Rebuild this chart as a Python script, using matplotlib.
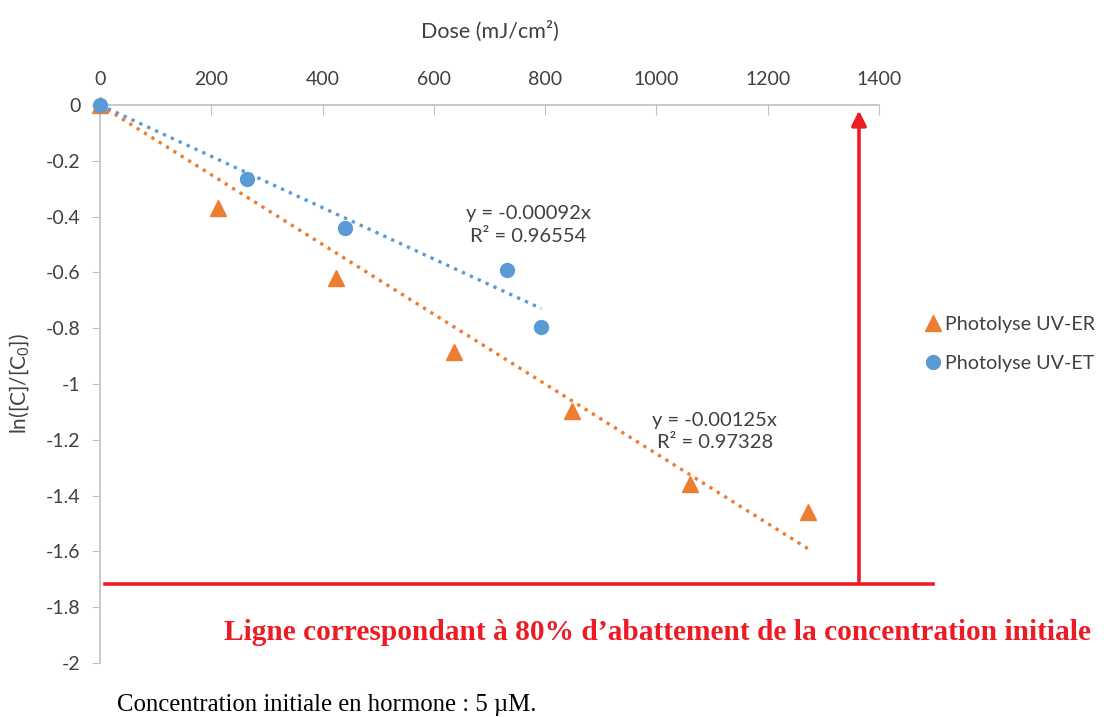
import matplotlib.pyplot as plt
import numpy as np
from matplotlib.lines import Line2D

# Photolyse UV-ER (orange triangles)
dose_er = [0, 212, 424, 636, 848, 1060, 1272]
lnc_er = [0, -0.37, -0.62, -0.885, -1.095, -1.36, -1.46]
slope_er = -0.00125
r2_er = 0.97328

# Photolyse UV-ET (blue circles)
dose_et = [0, 264, 440, 731, 793]
lnc_et = [0, -0.265, -0.44, -0.59, -0.795]
slope_et = -0.00092
r2_et = 0.96554

x_ticks = [0, 200, 400, 600, 800, 1000, 1200, 1400]
y_ticks = [0, -0.2, -0.4, -0.6, -0.8, -1, -1.2, -1.4, -1.6, -1.8, -2]
line_80 = -1.717  # red reference line as drawn
arrow_x = 1364

ORANGE = "#ED7D31"
BLUE = "#5B9BD5"
RED = "#ED1C24"
GREY = "#BFBFBF"
TXT = "#404040"

plt.rcParams["font.family"] = ["Lato", "DejaVu Sans"]

fig = plt.figure(figsize=(11.04, 7.17), dpi=100)
ax = fig.add_axes([100 / 1104, 1 - 663 / 717, 779 / 1104, 558 / 717])

ax.set_xlim(0, 1400)
ax.set_ylim(-2, 0)

# trendlines through origin
xe = np.array([0, max(dose_er)])
xt = np.array([0, max(dose_et)])
ax.plot(xe, slope_er * xe, ls=(0, (1, 1.6)), color=ORANGE, lw=2.4, zorder=2)
ax.plot(xt, slope_et * xt, ls=(0, (1, 1.6)), color=BLUE, lw=2.4, zorder=2)

ax.plot(dose_er, lnc_er, ls="none", marker="^", ms=11, color=ORANGE, zorder=3, clip_on=False)
ax.plot(dose_et, lnc_et, ls="none", marker="o", ms=10, color=BLUE, zorder=3, clip_on=False)

ax.text(770, -0.43, f"y = {slope_et:.5f}x\nR² = {r2_et}", ha="center", va="center",
        fontsize=14.5, color=TXT, linespacing=1.4)
ax.text(1105, -1.17, f"y = {slope_er:.5f}x\nR² = {r2_er}", ha="center", va="center",
        fontsize=14.5, color=TXT, linespacing=1.4)

# axes styling (Excel look: x axis at the top)
for s in ["right", "bottom"]:
    ax.spines[s].set_visible(False)
for s in ["left", "top"]:
    ax.spines[s].set_color(GREY)
    ax.spines[s].set_linewidth(1.2)
ax.xaxis.tick_top()
ax.xaxis.set_label_position("top")
ax.set_xticks(x_ticks)
ax.set_yticks(y_ticks)
ax.set_yticklabels([f"{v:g}" for v in y_ticks])
ax.tick_params(axis="x", direction="in", length=7, color=GREY, labelsize=14, labelcolor=TXT, pad=12)
ax.tick_params(axis="y", direction="out", length=6, color=GREY, labelsize=14, labelcolor=TXT, pad=8)
ax.set_xlabel("Dose (mJ/cm²)", fontsize=15.5, color=TXT, labelpad=24)
ax.set_ylabel("ln([C]/[C$_{\\mathregular{0}}$])", fontsize=15, color=TXT, labelpad=10)

# red 80% line and arrow
ax.plot([9, 1497], [line_80, line_80], color=RED, lw=2.6, clip_on=False, zorder=4)
ax.annotate("", xy=(arrow_x, -0.01), xytext=(arrow_x, line_80),
            arrowprops=dict(arrowstyle="-|>", color=RED, lw=2.6, mutation_scale=22),
            annotation_clip=False, zorder=4)

fig.text(224 / 1104, 1 - 632 / 717, "Ligne correspondant à 80% d’abattement de la concentration initiale",
         fontsize=21.2, fontweight="bold", color=RED, family="Liberation Serif", va="center", ha="left")
fig.text(117 / 1104, 1 - 705 / 717, "Concentration initiale en hormone : 5 µM.",
         fontsize=17.8, color="black", family="Liberation Serif", va="center", ha="left")

handles = [
    Line2D([], [], ls="none", marker="^", ms=11, color=ORANGE, label="Photolyse UV-ER"),
    Line2D([], [], ls="none", marker="o", ms=10, color=BLUE, label="Photolyse UV-ET"),
]
fig.legend(handles=handles, loc="center left", bbox_to_anchor=(903 / 1104, 1 - 344 / 717),
           frameon=False, fontsize=14.2, handletextpad=0.05, labelspacing=1.1, labelcolor=TXT,
           handlelength=1.2)

fig.savefig("out.png", dpi=100)
